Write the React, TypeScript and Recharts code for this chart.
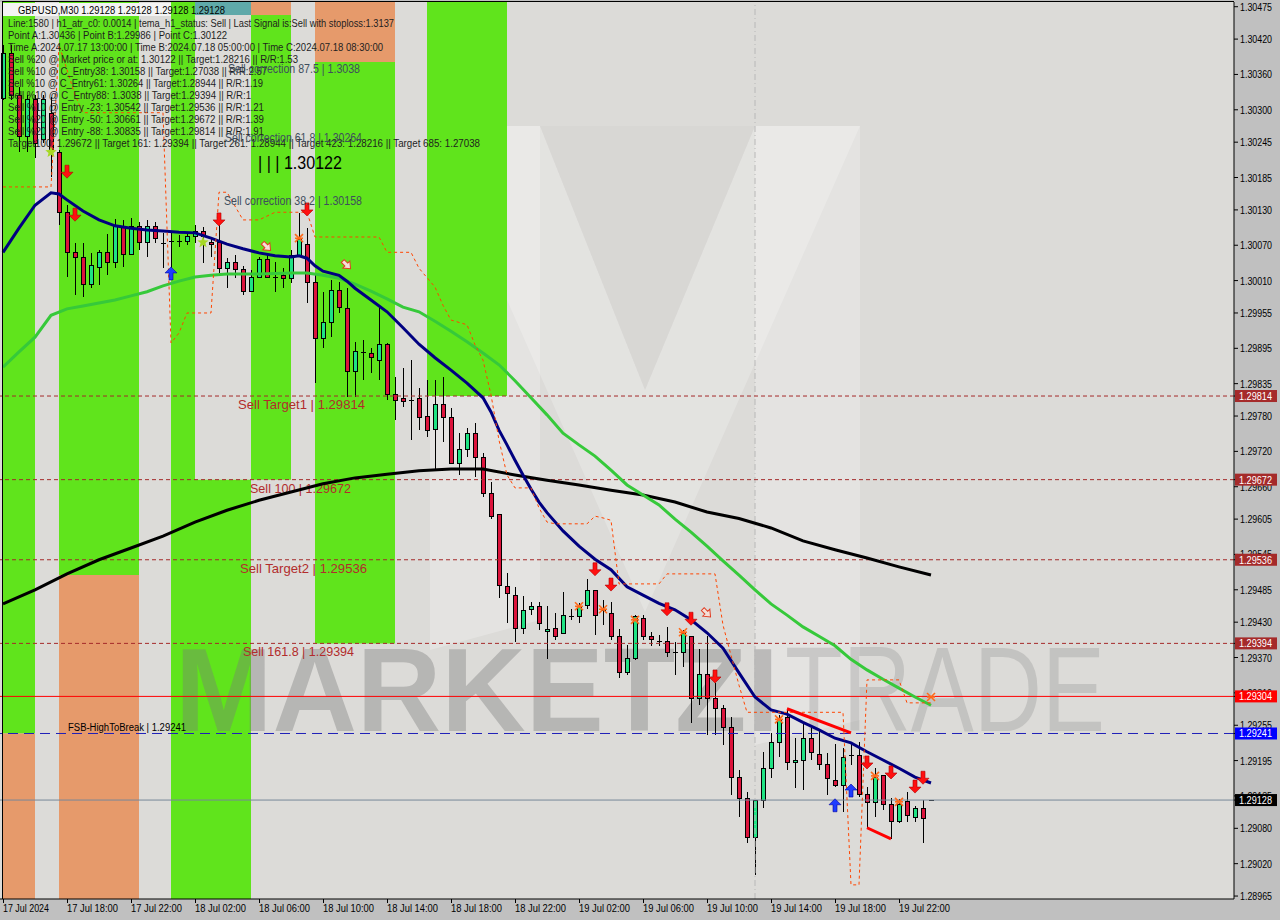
import React from "react";
import {
  ComposedChart,
  Bar,
  Line,
  XAxis,
  YAxis,
  CartesianGrid,
  ReferenceLine,
  ReferenceArea,
} from "recharts";

const FONT = "'Liberation Sans', Arial, sans-serif";

// price scale
const Y_MIN = 1.2896;
const Y_MAX = 1.30483;
const SLOTS = 154; // 30-minute slots across the plot, 117 of them used

const Y_TICKS = [
  1.30475, 1.3042, 1.3036, 1.303, 1.30245, 1.30185, 1.3013, 1.3007, 1.3001,
  1.29955, 1.29895, 1.29835, 1.2978, 1.2972, 1.2966, 1.29605, 1.29545, 1.29485,
  1.2943, 1.2937, 1.2931, 1.29255, 1.29195, 1.29135, 1.2908, 1.2902, 1.28965,
];
const MARK_PRICES = [1.29814, 1.29672, 1.29536, 1.29394, 1.29304, 1.29241, 1.29128];
const MARK_COLORS = ["#a52a2a", "#a52a2a", "#a52a2a", "#a52a2a", "#ff0000", "#0000ff", "#000000"];

const TIME_BARS = [0, 8, 16, 24, 32, 40, 48, 56, 64, 72, 80, 88, 96, 104, 112];
const TIME_LABELS = [
  "17 Jul 2024", "17 Jul 18:00", "17 Jul 22:00", "18 Jul 02:00", "18 Jul 06:00",
  "18 Jul 10:00", "18 Jul 14:00", "18 Jul 18:00", "18 Jul 22:00", "19 Jul 02:00",
  "19 Jul 06:00", "19 Jul 10:00", "19 Jul 14:00", "19 Jul 18:00", "19 Jul 22:00",
];

// GBPUSD M30, 17 Jul 14:00 .. 19 Jul 22:30
const OPEN = [
  1.3032, 1.30396, 1.30325, 1.30254, 1.30317, 1.30249, 1.30293, 1.30227, 1.30125, 1.30057,
  1.3005, 1.30004, 1.30033, 1.30057, 1.30041, 1.30101, 1.30055, 1.30101, 1.30075, 1.30101,
  1.30074, 1.30077, 1.30077, 1.30077, 1.30084, 1.30094, 1.30075, 1.30074, 1.30031, 1.3004,
  1.30028, 1.29991, 1.30016, 1.30045, 1.30016, 1.30018, 1.30013, 1.30053, 1.30072, 1.30006,
  1.29911, 1.29938, 1.29994, 1.29963, 1.29855, 1.29889, 1.29887, 1.29875, 1.29901, 1.29817,
  1.29809, 1.29807, 1.29809, 1.2978, 1.29758, 1.298, 1.29777, 1.297, 1.29724, 1.29751,
  1.2971, 1.29649, 1.29612, 1.29491, 1.29476, 1.2942, 1.29452, 1.29457, 1.29415, 1.2942,
  1.2941, 1.2944, 1.2944, 1.29459, 1.29483, 1.29451, 1.29444, 1.29405, 1.29344, 1.29369,
  1.29437, 1.29405, 1.29398, 1.29398, 1.29379, 1.29378, 1.29405, 1.29301, 1.29342, 1.29301,
  1.29284, 1.29252, 1.29167, 1.2913, 1.29064, 1.29128, 1.29182, 1.29225, 1.29269, 1.29191,
  1.29196, 1.29232, 1.29206, 1.29189, 1.29162, 1.29152, 1.29204, 1.29204, 1.29137, 1.29123,
  1.2917, 1.29121, 1.29091, 1.29126, 1.29099, 1.29114, 1.29128,
];
const HIGH = [
  1.3041, 1.3041, 1.30339, 1.30325, 1.30325, 1.30325, 1.30322, 1.30232, 1.30138, 1.30074,
  1.30074, 1.30057, 1.30062, 1.30089, 1.30115, 1.30113, 1.30116, 1.30109, 1.30113, 1.30109,
  1.30091, 1.30092, 1.30087, 1.30091, 1.30104, 1.30101, 1.30084, 1.30108, 1.30048, 1.30053,
  1.30035, 1.30028, 1.3005, 1.30053, 1.30041, 1.30031, 1.30062, 1.30125, 1.30099, 1.30023,
  1.29991, 1.30011, 1.30008, 1.29997, 1.29906, 1.29909, 1.29895, 1.29965, 1.29904, 1.29846,
  1.29862, 1.29875, 1.29828, 1.29841, 1.29841, 1.29846, 1.29794, 1.29751, 1.2976, 1.29768,
  1.29717, 1.29668, 1.29612, 1.29513, 1.2949, 1.29474, 1.29464, 1.29464, 1.29457, 1.29445,
  1.29481, 1.29452, 1.29462, 1.29503, 1.29483, 1.29468, 1.29464, 1.29418, 1.29391, 1.29442,
  1.29442, 1.29413, 1.29408, 1.29422, 1.29396, 1.29417, 1.29405, 1.29384, 1.29406, 1.29327,
  1.29289, 1.29269, 1.29179, 1.29142, 1.29128, 1.2921, 1.29242, 1.29272, 1.29281, 1.29233,
  1.29259, 1.2925, 1.29247, 1.29208, 1.29223, 1.29216, 1.29225, 1.29226, 1.2915, 1.29182,
  1.2917, 1.29131, 1.2913, 1.29142, 1.29118, 1.29128, 1.29128,
];
const LOW = [
  1.30317, 1.30317, 1.30228, 1.30228, 1.30218, 1.30244, 1.30186, 1.30104, 1.30016, 1.29986,
  1.29982, 1.29997, 1.30003, 1.30019, 1.30031, 1.30033, 1.30053, 1.30062, 1.3005, 1.30074,
  1.30031, 1.30028, 1.30067, 1.3007, 1.30074, 1.3004, 1.3005, 1.30023, 1.29997, 1.30014,
  1.29986, 1.29991, 1.30014, 1.30014, 1.29991, 1.29997, 1.30006, 1.3005, 1.29972, 1.29836,
  1.29895, 1.29914, 1.29955, 1.29812, 1.29812, 1.29841, 1.29853, 1.29841, 1.29807, 1.29773,
  1.29795, 1.29739, 1.29756, 1.29744, 1.29688, 1.29736, 1.297, 1.2968, 1.2971, 1.29676,
  1.29643, 1.29605, 1.29471, 1.29428, 1.29396, 1.2941, 1.29442, 1.29417, 1.29367, 1.294,
  1.2941, 1.29434, 1.29428, 1.29452, 1.29408, 1.29425, 1.294, 1.29335, 1.2934, 1.29366,
  1.294, 1.2939, 1.2939, 1.29371, 1.2934, 1.29354, 1.29259, 1.29289, 1.29238, 1.29238,
  1.29221, 1.29137, 1.29099, 1.29055, 1.29001, 1.29114, 1.29165, 1.29201, 1.29179, 1.29148,
  1.29145, 1.29196, 1.29179, 1.29137, 1.2915, 1.29108, 1.29187, 1.29133, 1.29081, 1.29099,
  1.29111, 1.29062, 1.29089, 1.29091, 1.29091, 1.29055, 1.29128,
];
const CLOSE = [
  1.30396, 1.30325, 1.30254, 1.30317, 1.30242, 1.30317, 1.30232, 1.30126, 1.30057, 1.3005,
  1.30004, 1.30035, 1.30057, 1.30041, 1.30101, 1.30055, 1.30101, 1.30075, 1.30101, 1.30081,
  1.30074, 1.30077, 1.30077, 1.30084, 1.30094, 1.30084, 1.30072, 1.30031, 1.3004, 1.30028,
  1.29991, 1.30016, 1.30045, 1.30016, 1.30016, 1.30014, 1.30053, 1.30079, 1.30006, 1.29911,
  1.29938, 1.29994, 1.29965, 1.29855, 1.2989, 1.29889, 1.29879, 1.29902, 1.29817, 1.29807,
  1.29804, 1.29807, 1.29778, 1.29756, 1.298, 1.29778, 1.297, 1.29724, 1.29751, 1.2971,
  1.29649, 1.2961, 1.29493, 1.29478, 1.2942, 1.29449, 1.29457, 1.29427, 1.29418, 1.29406,
  1.29442, 1.2944, 1.29456, 1.29483, 1.29442, 1.29451, 1.29406, 1.29344, 1.29369, 1.29439,
  1.29405, 1.29401, 1.29398, 1.29379, 1.29379, 1.2941, 1.29301, 1.29342, 1.29301, 1.29284,
  1.29252, 1.29167, 1.29131, 1.29065, 1.29128, 1.29181, 1.29225, 1.29265, 1.29192, 1.29196,
  1.29233, 1.29208, 1.29189, 1.29164, 1.29152, 1.29201, 1.29204, 1.29138, 1.29123, 1.29167,
  1.2912, 1.29091, 1.29121, 1.29101, 1.29114, 1.29097, 1.29128,
];

// moving averages (navy fast, green medium, black slow)
const NAVY_BARS = [
  0, 2, 4, 6, 7, 8, 10, 12, 14, 16, 18, 20, 22, 24, 26, 28, 30, 32, 34, 36, 37, 38, 39, 40,
  42, 43, 44, 46, 48, 50, 52, 54, 56, 58, 60, 61, 62, 63, 64, 65, 66, 67, 68, 70, 72, 74,
  76, 78, 80, 82, 84, 86, 88, 90, 92, 94, 96, 98, 100, 102, 104, 106, 108, 110, 112, 114, 116,
];
const NAVY = [
  1.30058, 1.30099, 1.30138, 1.30159, 1.30157, 1.30147, 1.30128, 1.30113, 1.30103, 1.30099,
  1.30096, 1.30094, 1.30092, 1.30091, 1.30082, 1.30072, 1.30064, 1.30057, 1.30052, 1.3005,
  1.30052, 1.30048, 1.30035, 1.30026, 1.30019, 1.30009, 1.29997, 1.29977, 1.29957, 1.2993,
  1.29902, 1.29879, 1.29858, 1.29836, 1.29811, 1.29787, 1.29756, 1.29731, 1.29705, 1.2968,
  1.29656, 1.29634, 1.29616, 1.29585, 1.29559, 1.29537, 1.29519, 1.2949, 1.29476, 1.29462,
  1.29451, 1.29434, 1.29412, 1.29386, 1.29344, 1.29303, 1.29281, 1.29274, 1.2926, 1.29247,
  1.29233, 1.29225, 1.2921, 1.29196, 1.29182, 1.29167, 1.29157,
];
const GREEN_BARS = [
  0, 2, 4, 6, 8, 10, 12, 14, 16, 18, 20, 22, 24, 26, 28, 32, 36, 38, 40, 42, 44, 46, 48, 50,
  52, 54, 56, 58, 60, 62, 64, 66, 68, 70, 72, 74, 76, 78, 80, 82, 84, 86, 88, 90, 92, 94,
  96, 98, 100, 102, 104, 106, 108, 110, 112, 114, 116,
];
const GREEN_MA = [
  1.29863, 1.29889, 1.29914, 1.29951, 1.29962, 1.29967, 1.29972, 1.29977, 1.29984, 1.29991,
  1.30001, 1.30009, 1.30016, 1.30019, 1.30021, 1.30021, 1.30023, 1.30023, 1.30019, 1.30014,
  1.30004, 1.29992, 1.29979, 1.29965, 1.29957, 1.29941, 1.29924, 1.29906, 1.29887, 1.29867,
  1.2984, 1.29811, 1.29782, 1.29751, 1.29731, 1.29712, 1.29688, 1.29663, 1.29646, 1.29629,
  1.29605, 1.29583, 1.29559, 1.29534, 1.2951, 1.29485, 1.29461, 1.29442, 1.29422, 1.29406,
  1.2939, 1.29367, 1.29349, 1.29333, 1.29318, 1.29303, 1.29289,
];
const BLACK_BARS = [
  0, 4, 8, 12, 16, 20, 24, 28, 32, 36, 40, 44, 48, 52, 56, 60, 64, 68, 72, 76, 80, 84, 88,
  92, 96, 100, 104, 108, 112, 116,
];
const BLACK_MA = [
  1.29461, 1.29485, 1.29512, 1.29536, 1.29556, 1.29576, 1.296, 1.2962, 1.29637, 1.29651,
  1.29665, 1.29675, 1.29681, 1.29687, 1.2969, 1.2969, 1.2968, 1.29671, 1.29663, 1.29654,
  1.29646, 1.29634, 1.29617, 1.29606, 1.2959, 1.29568, 1.29553, 1.29539, 1.29524, 1.2951,
];

// trailing stop (orange dashed)
const STOP_BARS = [
  0, 6, 7, 8, 9, 10, 20, 21, 22, 23, 26, 27, 28, 30, 32, 34, 38, 39, 47, 48, 51, 52, 54, 55,
  56, 58, 59, 60, 61, 62, 63, 64, 66, 67, 68, 69, 73, 74, 75, 76, 77, 82, 83, 89, 90, 91, 92,
  93, 105, 106, 107, 108, 112, 113, 116,
];
const STOP = [
  1.30169, 1.30169, 1.3041, 1.30368, 1.30325, 1.30295, 1.30295, 1.29904, 1.29921, 1.29955,
  1.29955, 1.3016, 1.3016, 1.30113, 1.30113, 1.30126, 1.30126, 1.30084, 1.30084, 1.30058,
  1.30058, 1.30031, 1.29999, 1.29968, 1.29943, 1.29935, 1.29901, 1.29875, 1.29816, 1.29739,
  1.2968, 1.29658, 1.29658, 1.29624, 1.296, 1.29597, 1.29597, 1.2961, 1.29607, 1.29603,
  1.29495, 1.29495, 1.29512, 1.29512, 1.29425, 1.29374, 1.29323, 1.29277, 1.29277, 1.28984,
  1.28984, 1.29332, 1.29332, 1.29293, 1.29293,
];

// signal markers
const RED_ARROW_BARS = [8, 9, 27, 38, 74, 76, 83, 86, 89, 108, 111, 114, 115];
const RED_ARROW = [
  1.30194, 1.30121, 1.30113, 1.3013, 1.29519, 1.29493, 1.29451, 1.29435, 1.29337, 1.29191,
  1.29174, 1.2915, 1.29165,
];
const BLUE_ARROW_BARS = [21, 104, 106];
const BLUE_ARROW = [1.30023, 1.2912, 1.29145];
const HOLLOW_BARS = [33, 43, 88];
const HOLLOW = [1.30067, 1.30036, 1.29445];
const STAR_BARS = [37, 72, 75, 79, 85, 97, 109, 112, 116];
const STAR = [1.30082, 1.29457, 1.29452, 1.29434, 1.29413, 1.29265, 1.29169, 1.29125, 1.29303];
const LIME_BARS = [6, 25];
const LIME = [1.30228, 1.30075];
const SEG1_BARS = [98, 106];
const SEG1 = [1.29283, 1.29242];
const SEG2_BARS = [108, 111];
const SEG2 = [1.29081, 1.29062];

// horizontal levels
const LEVELS = [1.29814, 1.29672, 1.29536, 1.29394];
const LEVEL_TEXT = [
  "Sell Target1 | 1.29814",
  "Sell 100 | 1.29672",
  "Sell Target2 | 1.29536",
  "Sell 161.8 | 1.29394",
];
const RED_LEVEL = 1.29304;
const FSB_LEVEL = 1.29241;
const BID = 1.29128;

// time/price zones behind the candles
const BAND_FROM = [0, 0, 7, 7, 21, 21, 24, 31, 31, 39, 39, 53];
const BAND_TO = [4, 4, 17, 17, 24, 31, 31, 36, 36, 49, 49, 63];
const BAND_LOW = [1.29241, Y_MIN, 1.2951, Y_MIN, Y_MIN, Y_MIN, 1.30461, 1.30461, 1.29672, 1.30381, 1.29394, 1.29814];
const BAND_HIGH = [Y_MAX, 1.29241, Y_MAX, 1.2951, Y_MAX, 1.29672, Y_MAX, Y_MAX, 1.30461, Y_MAX, 1.30381, Y_MAX];
const BAND_KIND = ["g", "o", "g", "o", "g", "g", "t", "o", "g", "o", "g", "g"];

const INFO_LINES = [
  "Line:1580 | h1_atr_c0: 0.0014 | tema_h1_status: Sell | Last Signal is:Sell with stoploss:1.3137",
  "Point A:1.30436 | Point B:1.29986 | Point C:1.30122",
  "Time A:2024.07.17 13:00:00 | Time B:2024.07.18 05:00:00 | Time C:2024.07.18 08:30:00",
  "Sell %20 @ Market price or at: 1.30122 || Target:1.28216 || R/R:1.53",
  "Sell %10 @ C_Entry38: 1.30158 || Target:1.27038 || R/R:2.57",
  "Sell %10 @ C_Entry61: 1.30264 || Target:1.28944 || R/R:1.19",
  "Sell %10 @ C_Entry88: 1.3038 || Target:1.29394 || R/R:1",
  "Sell %10 @ Entry -23: 1.30542 || Target:1.29536 || R/R:1.21",
  "Sell %20 @ Entry -50: 1.30661 || Target:1.29672 || R/R:1.39",
  "Sell %20 @ Entry -88: 1.30835 || Target:1.29814 || R/R:1.91",
  "Target100: 1.29672 || Target 161: 1.29394 || Target 261: 1.28944 || Target 423: 1.28216 || Target 685: 1.27038",
];
const INFO_WIDTHS = [386, 219, 375, 290, 259, 255, 243, 256, 256, 256, 472];

const BAND_COLORS: Record<string, string> = { g: "#60e41c", o: "#e69a6b", t: "#5fa9a9" };
const BULL = "#1fe383";
const BEAR = "#dc143c";

const rows: any[] = Array.from({ length: SLOTS }, (_, i) => {
  const r: any = { i };
  if (i < OPEN.length) {
    r.o = OPEN[i];
    r.h = HIGH[i];
    r.l = LOW[i];
    r.c = CLOSE[i];
    r.range = [LOW[i], HIGH[i]];
  }
  return r;
});
const put = (key: string, bars: number[], vals: number[]) =>
  bars.forEach((b, k) => {
    rows[b][key] = vals[k];
  });
put("navy", NAVY_BARS, NAVY);
put("green", GREEN_BARS, GREEN_MA);
put("black", BLACK_BARS, BLACK_MA);
put("stop", STOP_BARS, STOP);
put("red", RED_ARROW_BARS, RED_ARROW);
put("blue", BLUE_ARROW_BARS, BLUE_ARROW);
put("hollow", HOLLOW_BARS, HOLLOW);
put("star", STAR_BARS, STAR);
put("lime", LIME_BARS, LIME);
put("seg1", SEG1_BARS, SEG1);
put("seg2", SEG2_BARS, SEG2);

const Candle = (p: any) => {
  const d = p.payload;
  if (!d || d.o == null) return <g />;
  const top = Math.min(p.y, p.y + p.height);
  const bot = Math.max(p.y, p.y + p.height);
  const span = d.h - d.l;
  const py = (v: number) => (span > 0 ? top + ((d.h - v) / span) * (bot - top) : top);
  const cx = Math.round(p.x + p.width / 2);
  const yo = py(d.o);
  const yc = py(d.c);
  const flat = Math.abs(yo - yc) < 1.2;
  return (
    <g shapeRendering="crispEdges">
      <line x1={cx + 0.5} x2={cx + 0.5} y1={top} y2={bot} stroke="#000" />
      {flat ? (
        <line x1={cx - 2} x2={cx + 3} y1={Math.round(yo) + 0.5} y2={Math.round(yo) + 0.5} stroke="#000" />
      ) : (
        <rect
          x={cx - 1.5}
          y={Math.min(yo, yc)}
          width={4}
          height={Math.abs(yo - yc)}
          fill={d.c > d.o ? BULL : BEAR}
          stroke="#000"
        />
      )}
    </g>
  );
};

const marker = (key: string, draw: (x: number, y: number) => React.ReactNode) => (p: any) => {
  if (!p.payload || p.payload[key] == null || p.cy == null || isNaN(p.cy)) return <g key={p.index} />;
  return <g key={p.index}>{draw(p.cx, p.cy)}</g>;
};

const redArrow = marker("red", (x, y) => (
  <path d={`M${x - 2},${y - 7}h4v7h4l-6,6l-6,-6h4z`} fill="#ff1010" stroke="#b00000" strokeWidth={0.6} />
));
const blueArrow = marker("blue", (x, y) => (
  <path d={`M${x - 2},${y + 7}h4v-7h4l-6,-6l-6,6h4z`} fill="#1e3cff" stroke="#0000a0" strokeWidth={0.6} />
));
const hollowArrow = marker("hollow", (x, y) => (
  <path
    d="M-2,-6h4v5h3l-5,6l-5,-6h3z"
    transform={`translate(${x},${y}) rotate(-45)`}
    fill="#f4e0d8"
    stroke="#e03a20"
    strokeWidth={1}
  />
));
const orangeStar = marker("star", (x, y) => (
  <g stroke="#ff6a1a" strokeWidth={1.6}>
    <line x1={x - 4} y1={y - 4} x2={x + 4} y2={y + 4} />
    <line x1={x - 4} y1={y + 4} x2={x + 4} y2={y - 4} />
    <line x1={x - 4} y1={y} x2={x + 4} y2={y} />
  </g>
));
const limeStar = marker("lime", (x, y) => {
  const pts: string[] = [];
  for (let k = 0; k < 10; k++) {
    const r = k % 2 === 0 ? 6 : 2.6;
    const a = -Math.PI / 2 + (k * Math.PI) / 5;
    pts.push(`${x + r * Math.cos(a)},${y + r * Math.sin(a)}`);
  }
  return <polygon points={pts.join(" ")} fill="#a6d824" />;
});

const TimeTick = (p: any) => {
  const k = TIME_BARS.indexOf(p.payload?.value);
  if (k < 0) return <g />;
  return (
    <g>
      <line x1={p.x + 0.5} x2={p.x + 0.5} y1={p.y} y2={p.y + 4} stroke="#000" />
      <text
        x={p.x}
        y={p.y + 13}
        fontSize={10}
        fontFamily={FONT}
        fill="#000"
        textLength={k === 0 ? 46 : 51}
        lengthAdjust="spacingAndGlyphs"
      >
        {TIME_LABELS[k]}
      </text>
    </g>
  );
};

const PriceTick = (p: any) => {
  const v = p.payload?.value;
  const k = MARK_PRICES.indexOf(v);
  if (k >= 0) {
    return (
      <g>
        <rect x={p.x - 5} y={p.y - 6} width={42} height={12} fill={MARK_COLORS[k]} />
        <text x={p.x - 1} y={p.y + 4} fontSize={10} fontFamily={FONT} fill="#fff" textLength={33} lengthAdjust="spacingAndGlyphs">
          {v.toFixed(5)}
        </text>
      </g>
    );
  }
  return (
    <text x={p.x} y={p.y + 4} fontSize={10} fontFamily={FONT} fill="#000" textLength={32} lengthAdjust="spacingAndGlyphs">
      {Number(v).toFixed(5)}
    </text>
  );
};

const levelLabel = (text: string, px: number, width: number, dy: number, color: string, size: number) => (props: any) => {
  const vb = props.viewBox || {};
  return (
    <text
      x={(vb.x ?? 0) + px}
      y={(vb.y ?? 0) + dy}
      fill={color}
      fontSize={size}
      fontFamily={FONT}
      textLength={width}
      lengthAdjust="spacingAndGlyphs"
    >
      {text}
    </text>
  );
};
const LEVEL_X = [239, 251, 241, 244];
const LEVEL_W = [127, 101, 127, 111];

// faint "M" logo, drawn under the coloured zones
const Logo = () => (
  <g>
    <polygon points="431,126 541,126 541,620 431,650" fill="#ffffff" fillOpacity={0.24} />
    <polygon points="756,126 861,126 861,720 756,745" fill="#ffffff" fillOpacity={0.24} />
    <polygon
      points="431,126 541,126 646,390 756,126 861,126 646,612"
      fill="#ffffff"
      fillOpacity={0.22}
    />
    <polygon points="541,126 756,126 646,390" fill="#9a9a9a" fillOpacity={0.06} />
  </g>
);

// brand text, drawn over the zones but under the candles
const Brand = () => (
  <g>
    <text x={176} y={731} fontSize={118} fontWeight="bold" fontFamily={FONT} fill="#7a7a7a" fillOpacity={0.38} textLength={604} lengthAdjust="spacingAndGlyphs">
      MARKETZI
    </text>
    <text x={786} y={731} fontSize={120} fontFamily={FONT} fill="#8a8a8a" fillOpacity={0.3} textLength={320} lengthAdjust="spacingAndGlyphs">
      TRADE
    </text>
  </g>
);

export default function App() {
  return (
    <div
      style={{
        position: "fixed",
        left: 0,
        top: 0,
        width: 1280,
        height: 920,
        background: "#c0c0c0",
        overflow: "hidden",
      }}
    >
      <div style={{ position: "absolute", left: -1, top: 0 }}>
        <ComposedChart width={1281} height={920} data={rows} margin={{ top: 2, right: 0, bottom: 0, left: 0 }}>
          <CartesianGrid fill="#dcdbd8" horizontal={false} vertical={false} />
          <XAxis
            dataKey="i"
            type="category"
            interval={0}
            padding={{ left: 0, right: 3 }}
            height={21}
            tickLine={false}
            tickSize={0}
            tickMargin={0}
            tick={(p: any) => <TimeTick {...p} />}
            axisLine={{ stroke: "#000" }}
          />
          <XAxis
            xAxisId="n"
            dataKey="i"
            type="number"
            domain={[-0.5, SLOTS - 0.5]}
            allowDataOverflow
            hide
            padding={{ left: 0, right: 3 }}
          />
          <YAxis
            orientation="right"
            type="number"
            domain={[Y_MIN, Y_MAX]}
            allowDataOverflow
            ticks={[...Y_TICKS, ...MARK_PRICES]}
            interval={0}
            width={46}
            tickSize={4}
            tickMargin={2}
            tickLine={{ stroke: "#000" }}
            axisLine={{ stroke: "#000" }}
            tick={(p: any) => <PriceTick {...p} />}
          />
          <ReferenceArea
            xAxisId="n"
            x1={-0.5}
            x2={SLOTS - 0.5}
            y1={Y_MIN}
            y2={Y_MAX}
            fill="none"
            stroke="none"
            shape={() => <Logo />}
          />
          {BAND_FROM.map((b, k) => (
            <ReferenceArea
              key={"band" + k}
              xAxisId="n"
              x1={b}
              x2={BAND_TO[k]}
              y1={BAND_LOW[k]}
              y2={BAND_HIGH[k]}
              fill={BAND_COLORS[BAND_KIND[k]]}
              fillOpacity={1}
              stroke="none"
            />
          ))}
          <ReferenceArea
            xAxisId="n"
            x1={-0.5}
            x2={SLOTS - 0.5}
            y1={Y_MIN}
            y2={Y_MAX}
            fill="none"
            stroke="none"
            shape={() => <Brand />}
          />
          <ReferenceLine xAxisId="n" x={94} stroke="#b8b8b8" strokeDasharray="6 3 1 3" />
          {LEVELS.map((v, k) => (
            <ReferenceLine
              key={"lvl" + k}
              y={v}
              stroke="#a52a2a"
              strokeDasharray="4 3"
              label={levelLabel(LEVEL_TEXT[k], LEVEL_X[k], LEVEL_W[k], 13, "#b22c2c", 13)}
            />
          ))}
          <ReferenceLine y={RED_LEVEL} stroke="#ff0000" />
          <ReferenceLine
            y={FSB_LEVEL}
            stroke="#2020b8"
            strokeDasharray="10 6"
            label={levelLabel("FSB-HighToBreak | 1.29241", 69, 118, -2, "#000", 10)}
          />
          <ReferenceLine y={BID} stroke="#778899" />
          <Bar dataKey="range" barSize={6} shape={(p: any) => <Candle {...p} />} isAnimationActive={false} />
          <Line dataKey="black" stroke="#000000" strokeWidth={3} dot={false} activeDot={false} connectNulls isAnimationActive={false} />
          <Line dataKey="green" stroke="#36c93a" strokeWidth={3} dot={false} activeDot={false} connectNulls isAnimationActive={false} />
          <Line dataKey="navy" stroke="#000080" strokeWidth={3} dot={false} activeDot={false} connectNulls isAnimationActive={false} />
          <Line dataKey="stop" stroke="#ff4500" strokeWidth={1} strokeDasharray="3 3" dot={false} activeDot={false} connectNulls isAnimationActive={false} />
          <Line dataKey="seg1" stroke="#ff0000" strokeWidth={3} dot={false} activeDot={false} connectNulls isAnimationActive={false} />
          <Line dataKey="seg2" stroke="#ff0000" strokeWidth={3} dot={false} activeDot={false} connectNulls isAnimationActive={false} />
          <Line dataKey="red" stroke="none" dot={redArrow} activeDot={false} isAnimationActive={false} />
          <Line dataKey="blue" stroke="none" dot={blueArrow} activeDot={false} isAnimationActive={false} />
          <Line dataKey="hollow" stroke="none" dot={hollowArrow} activeDot={false} isAnimationActive={false} />
          <Line dataKey="star" stroke="none" dot={orangeStar} activeDot={false} isAnimationActive={false} />
          <Line dataKey="lime" stroke="none" dot={limeStar} activeDot={false} isAnimationActive={false} />
        </ComposedChart>
      </div>
      <svg
        width={1280}
        height={920}
        style={{ position: "absolute", left: 0, top: 0, pointerEvents: "none" }}
        fontFamily={FONT}
      >
        <line x1={2} x2={1234} y1={1.5} y2={1.5} stroke="#000" />
        <line x1={2.5} x2={2.5} y1={2} y2={899} stroke="#000" />
        <rect x={3} y={3} width={168} height={13} fill="#f4f4f4" />
        <text x={18} y={14} fontSize={11} fill="#000" textLength={207} lengthAdjust="spacingAndGlyphs">
          GBPUSD,M30  1.29128 1.29128 1.29128 1.29128
        </text>
        {INFO_LINES.map((t, k) => (
          <text
            key={k}
            x={8}
            y={27 + k * 12}
            fontSize={10.5}
            fill="#1e1e1e"
            textLength={INFO_WIDTHS[k]}
            lengthAdjust="spacingAndGlyphs"
          >
            {t}
          </text>
        ))}
        <text x={228} y={73} fontSize={12.5} fill="#3e4e5e" textLength={132} lengthAdjust="spacingAndGlyphs">
          Sell correction 87.5 | 1.3038
        </text>
        <text x={225} y={142} fontSize={12.5} fill="#3e4e5e" textLength={137} lengthAdjust="spacingAndGlyphs">
          Sell correction 61.8 | 1.30264
        </text>
        <text x={258} y={169} fontSize={18} fill="#000" textLength={84} lengthAdjust="spacingAndGlyphs">
          | | | 1.30122
        </text>
        <text x={224} y={205} fontSize={12.5} fill="#3e4e5e" textLength={138} lengthAdjust="spacingAndGlyphs">
          Sell correction 38.2 | 1.30158
        </text>
      </svg>
    </div>
  );
}
